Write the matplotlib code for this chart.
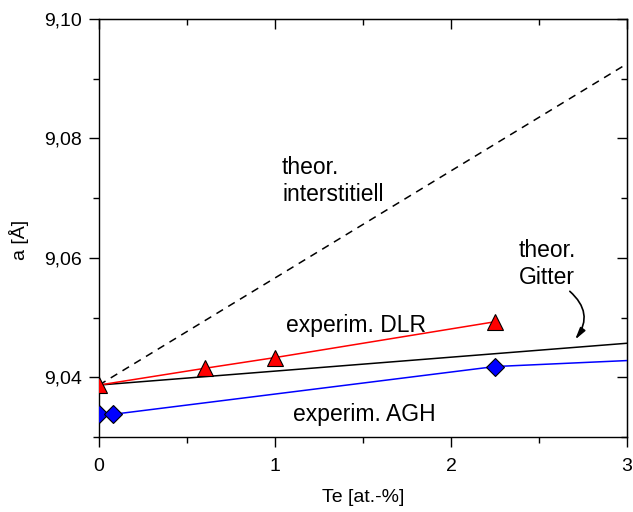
import matplotlib
matplotlib.use("Agg")
import matplotlib.pyplot as plt
from matplotlib.ticker import MultipleLocator, FuncFormatter

plt.rcParams['font.family'] = ['Liberation Sans', 'DejaVu Sans']

# Lattice parameter a [Å] versus Te content [at.-%]
dlr_te = [0.0, 0.6, 1.0, 2.25]
dlr_a = [9.0387, 9.0415, 9.0433, 9.0493]

agh_te = [0.0, 0.08, 2.25]
agh_a = [9.0338, 9.0338, 9.0418]
agh_line_te = [0.08, 2.25, 3.0]
agh_line_a = [9.0338, 9.0418, 9.0428]

gitter_te = [0.0, 3.0]
gitter_a = [9.0387, 9.0457]

inter_te = [0.0, 3.0]
inter_a = [9.0387, 9.0925]

fig = plt.figure(figsize=(6.33, 5.12), dpi=100)
ax = fig.add_axes([99 / 633, 1 - 437 / 512, (627 - 99) / 633, (437 - 19) / 512])

ax.plot(inter_te, inter_a, color='black', lw=1.1, ls=(0, (5, 4)), zorder=2)
ax.plot(gitter_te, gitter_a, color='black', lw=1.1, zorder=3)
ax.plot(dlr_te, dlr_a, color='red', lw=1.1, zorder=3)
tri, = ax.plot(dlr_te, dlr_a, ls='none', marker='^', ms=11, mfc='red',
               mec='black', mew=0.8, zorder=4)
ax.plot(agh_line_te, agh_line_a, color='blue', lw=1.1, zorder=3)
dia, = ax.plot(agh_te, agh_a, ls='none', marker='D', ms=9, mfc='blue',
               mec='black', mew=0.8, zorder=4)
# markers sitting on the left spine are cut off at the frame
for m in (tri, dia):
    m.set_clip_path(ax.patch)

ax.set_xlim(0, 3)
ax.set_ylim(9.03, 9.10)

ax.xaxis.set_major_locator(MultipleLocator(1))
ax.xaxis.set_minor_locator(MultipleLocator(0.5))
ax.yaxis.set_major_locator(MultipleLocator(0.02))
ax.yaxis.set_minor_locator(MultipleLocator(0.01))
ax.yaxis.set_major_formatter(FuncFormatter(lambda v, p: f"{v:.2f}".replace('.', ',')))
ax.xaxis.set_major_formatter(FuncFormatter(lambda v, p: f"{v:g}"))

ax.tick_params(which='both', direction='out', top=False, right=False,
               labelsize=14, width=1)
ax.tick_params(which='major', length=7)
ax.tick_params(which='minor', length=4)
ax.tick_params(axis='x', which='major', pad=8)
ax.tick_params(axis='y', which='major', pad=5)

# inward ticks on the opposite spines
secx = ax.secondary_xaxis('top')
secx.xaxis.set_major_locator(MultipleLocator(1))
secx.xaxis.set_minor_locator(MultipleLocator(0.5))
secx.tick_params(which='both', direction='in', labeltop=False, width=1)
secx.tick_params(which='major', length=7)
secx.tick_params(which='minor', length=4)
secy = ax.secondary_yaxis('right')
secy.yaxis.set_major_locator(MultipleLocator(0.02))
secy.yaxis.set_minor_locator(MultipleLocator(0.01))
secy.tick_params(which='both', direction='in', labelright=False, width=1)
secy.tick_params(which='major', length=7)
secy.tick_params(which='minor', length=4)

for s in ax.spines.values():
    s.set_linewidth(1)

ax.set_xlabel('Te [at.-%]', fontsize=14, labelpad=10)
ax.set_ylabel('a [Å]', fontsize=14)
ax.yaxis.set_label_coords(-0.132, 0.472)

ax.text(1.04, 9.0729, 'theor.\ninterstitiell', fontsize=16.5, ha='left',
        va='center', linespacing=1.2)
ax.text(1.06, 9.0486, 'experim. DLR', fontsize=16.5, ha='left', va='center')
ax.text(1.10, 9.0337, 'experim. AGH', fontsize=16.5, ha='left', va='center')
ax.text(2.385, 9.0590, 'theor.\nGitter', fontsize=16.5, ha='left',
        va='center', linespacing=1.2)

ax.annotate('', xy=(2.705, 9.0463), xytext=(2.675, 9.0544),
            arrowprops=dict(arrowstyle='-|>,head_length=0.7,head_width=0.18',
                            color='black', lw=1.2,
                            connectionstyle='arc3,rad=-0.45',
                            shrinkA=0, shrinkB=0))

fig.savefig('out.png', dpi=100)
